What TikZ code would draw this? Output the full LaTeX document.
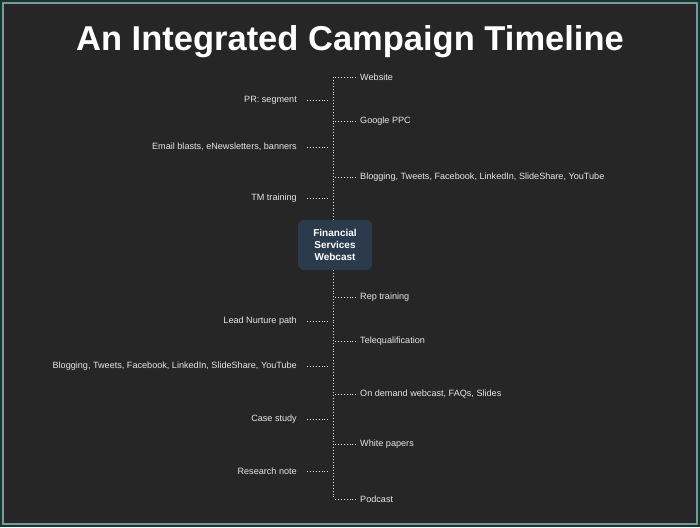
\documentclass[tikz,border=0pt]{standalone}
\usepackage{fontspec}
\setmainfont{Liberation Sans}
\definecolor{bg}{HTML}{262626}
\definecolor{edge}{HTML}{0E3B22}
\definecolor{rim}{HTML}{7F93A8}
\definecolor{hub}{HTML}{2B3B4B}
\definecolor{txt}{HTML}{E6E6E6}
\begin{document}
\begin{tikzpicture}[x=1pt,y=-1pt,
  lbl/.style={text=txt,font=\fontsize{9.1}{11}\selectfont,inner sep=0pt},
  dots/.style={draw=txt,dotted,line width=0.9pt}]
\useasboundingbox (0,0) rectangle (700,527);
\fill[edge] (0,0) rectangle (700,527);
\fill[bg,draw=rim,line width=1.5pt] (3,3) rectangle (697,524);
\node[text=white,font=\bfseries\fontsize{34.5}{40}\selectfont] (title) at (350,42) {An Integrated Campaign Timeline};
\node[fill=hub,rounded corners=6pt,minimum width=74pt,minimum height=50pt,text=white,
  font=\bfseries\fontsize{10}{12}\selectfont,align=center] (hub) at (335,245) {Financial\\Services\\Webcast};
\coordinate (top) at (333,77);
\coordinate (bot) at (333,499);
\draw[dots] (top) -- (hub.north -| top);
\draw[dots] (hub.south -| top) -- (bot);
\foreach \y/\t/\n in {77/Website/r1,121/Google PPC/r2,177/{Blogging, Tweets, Facebook, LinkedIn, SlideShare, YouTube}/r3,297/Rep training/r4,341/Telequalification/r5,394/{On demand webcast, FAQs, Slides}/r6,444/White papers/r7,499/Podcast/r8}{
  \node[lbl,anchor=west] (\n) at (360,\y) {\t};
  \coordinate (\n a) at (335,\y);
  \coordinate (\n b) at (357,\y);
  \draw[dots] (\n a) -- (\n b);
}
\foreach \y/\t/\n in {100/PR: segment/l1,147/{Email blasts, eNewsletters, banners}/l2,198/TM training/l3,321/Lead Nurture path/l4,366/{Blogging, Tweets, Facebook, LinkedIn, SlideShare, YouTube}/l5,419/Case study/l6,471/Research note/l7}{
  \node[lbl,anchor=east] (\n) at (297,\y) {\t};
  \coordinate (\n a) at (307,\y);
  \coordinate (\n b) at (329,\y);
  \draw[dots] (\n a) -- (\n b);
}
\end{tikzpicture}
\end{document}
